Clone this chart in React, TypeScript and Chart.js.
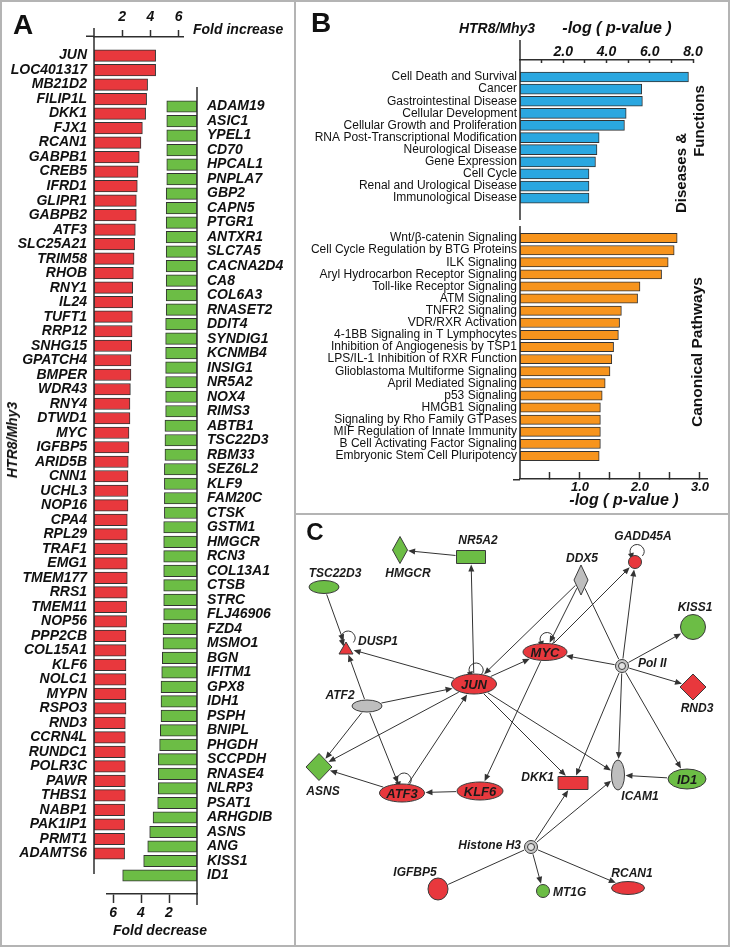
import React, { useEffect, useRef } from "react";
import { Chart, registerables } from "chart.js";

Chart.register(...registerables);

const SANS = '"Liberation Sans", Arial, Helvetica, sans-serif';

// ---------------- Panel A data ----------------
const upGenes = [
  "JUN", "LOC401317", "MB21D2", "FILIP1L", "DKK1", "FJX1", "RCAN1", "GABPB1", "CREB5", "IFRD1",
  "GLIPR1", "GABPB2", "ATF3", "SLC25A21", "TRIM58", "RHOB", "RNY1", "IL24", "TUFT1", "RRP12",
  "SNHG15", "GPATCH4", "BMPER", "WDR43", "RNY4", "DTWD1", "MYC", "IGFBP5", "ARID5B", "CNN1",
  "UCHL3", "NOP16", "CPA4", "RPL29", "TRAF1", "EMG1", "TMEM177", "RRS1", "TMEM11", "NOP56",
  "PPP2CB", "COL15A1", "KLF6", "NOLC1", "MYPN", "RSPO3", "RND3", "CCRN4L", "RUNDC1", "POLR3C",
  "PAWR", "THBS1", "NABP1", "PAK1IP1", "PRMT1", "ADAMTS6",
];
const upFold = [
  4.37, 4.37, 3.8, 3.73, 3.66, 3.43, 3.33, 3.21, 3.12, 3.07,
  3.0, 3.0, 2.93, 2.88, 2.84, 2.79, 2.74, 2.74, 2.72, 2.7,
  2.67, 2.62, 2.62, 2.58, 2.55, 2.55, 2.48, 2.48, 2.43, 2.41,
  2.41, 2.41, 2.36, 2.36, 2.36, 2.36, 2.36, 2.36, 2.31, 2.31,
  2.27, 2.27, 2.27, 2.27, 2.27, 2.27, 2.22, 2.22, 2.22, 2.22,
  2.22, 2.22, 2.17, 2.17, 2.17, 2.17,
];
const downGenes = [
  "ADAM19", "ASIC1", "YPEL1", "CD70", "HPCAL1", "PNPLA7", "GBP2", "CAPN5", "PTGR1", "ANTXR1",
  "SLC7A5", "CACNA2D4", "CA8", "COL6A3", "RNASET2", "DDIT4", "SYNDIG1", "KCNMB4", "INSIG1", "NR5A2",
  "NOX4", "RIMS3", "ABTB1", "TSC22D3", "RBM33", "SEZ6L2", "KLF9", "FAM20C", "CTSK", "GSTM1",
  "HMGCR", "RCN3", "COL13A1", "CTSB", "STRC", "FLJ46906", "FZD4", "MSMO1", "BGN", "IFITM1",
  "GPX8", "IDH1", "PSPH", "BNIPL", "PHGDH", "SCCPDH", "RNASE4", "NLRP3", "PSAT1", "ARHGDIB",
  "ASNS", "ANG", "KISS1", "ID1",
];
const downFold = [
  2.16, 2.16, 2.16, 2.16, 2.16, 2.16, 2.2, 2.2, 2.2, 2.2,
  2.2, 2.2, 2.2, 2.2, 2.2, 2.24, 2.24, 2.24, 2.24, 2.24,
  2.24, 2.24, 2.29, 2.29, 2.29, 2.33, 2.33, 2.33, 2.33, 2.38,
  2.38, 2.38, 2.38, 2.38, 2.38, 2.38, 2.43, 2.43, 2.48, 2.52,
  2.57, 2.57, 2.57, 2.62, 2.67, 2.76, 2.76, 2.76, 2.81, 3.14,
  3.38, 3.52, 3.81, 5.31,
];
const foldUpTicks = [2, 4, 6];
const foldDownTicks = [2, 4, 6];

// ---------------- Panel B data ----------------
const diseaseTerms = [
  "Cell Death and Survival", "Cancer", "Gastrointestinal Disease", "Cellular Development",
  "Cellular Growth and Proliferation", "RNA Post-Transcriptional Modification", "Neurological Disease",
  "Gene Expression", "Cell Cycle", "Renal and Urological Disease", "Immunological Disease",
];
const diseaseLogP = [7.79, 5.63, 5.66, 4.91, 4.83, 3.66, 3.56, 3.49, 3.19, 3.19, 3.19];
const diseaseTicks = [1, 2, 3, 4, 5, 6, 7, 8];

const pathwayTerms = [
  "Wnt/β-catenin Signaling", "Cell Cycle Regulation by BTG Proteins", "ILK Signaling",
  "Aryl Hydrocarbon Receptor Signaling", "Toll-like Receptor Signaling", "ATM Signaling",
  "TNFR2 Signaling", "VDR/RXR Activation", "4-1BB Signaling in T Lymphocytes",
  "Inhibition of Angiogenesis by TSP1", "LPS/IL-1 Inhibition of RXR Function",
  "Glioblastoma Multiforme Signaling", "April Mediated Signaling", "p53 Signaling", "HMGB1 Signaling",
  "Signaling by Rho Family GTPases", "MIF Regulation of Innate Immunity",
  "B Cell Activating Factor Signaling", "Embryonic Stem Cell Pluripotency",
];
const pathwayLogP = [2.62, 2.57, 2.47, 2.36, 2.0, 1.96, 1.69, 1.66, 1.64, 1.56, 1.53, 1.5, 1.42, 1.37, 1.34, 1.34, 1.34, 1.34, 1.32];
const pathwayTicks = [0.5, 1, 1.5, 2, 2.5, 3];

// ---------------- Panel C data (network layout units) ----------------
const nodeNames = [
  "HMGCR", "NR5A2", "TSC22D3", "DUSP1", "DDX5", "GADD45A", "KISS1", "MYC", "Pol II", "JUN", "ATF2",
  "RND3", "ASNS", "ATF3", "KLF6", "DKK1", "ICAM1", "ID1", "Histone H3", "IGFBP5", "MT1G", "RCAN1",
];
const nodeX = [102, 173, 26, 48, 283, 337, 395, 247, 324, 176, 69, 395, 21, 104, 182, 275, 320, 389, 233, 140, 245, 330];
const nodeY = [34, 41, 71, 132, 64, 46, 111, 136, 150, 168, 190, 171, 251, 277, 275, 267, 259, 263, 331, 373, 375, 372];
const nodeRegulation = [
  "down", "down", "down", "up", "none", "up", "down", "up", "none", "up", "none",
  "up", "down", "up", "up", "up", "none", "down", "none", "up", "down", "up",
];
const edgeFrom = [
  "NR5A2", "JUN", "TSC22D3", "JUN", "ATF2", "ATF2", "ATF2", "ATF2", "JUN", "ATF3", "MYC", "KLF6",
  "ATF3", "JUN", "JUN", "JUN", "DDX5", "DDX5", "MYC", "DDX5", "Pol II", "Pol II", "Pol II", "Pol II",
  "Pol II", "Pol II", "Pol II", "ID1", "Histone H3", "Histone H3", "Histone H3", "Histone H3", "IGFBP5",
];
const edgeTo = [
  "HMGCR", "NR5A2", "DUSP1", "DUSP1", "DUSP1", "JUN", "ASNS", "ATF3", "ASNS", "JUN", "KLF6", "ATF3",
  "ASNS", "MYC", "DKK1", "ICAM1", "JUN", "MYC", "GADD45A", "Pol II", "MYC", "GADD45A", "KISS1", "RND3",
  "ICAM1", "DKK1", "ID1", "ICAM1", "DKK1", "ICAM1", "MT1G", "RCAN1", "Histone H3",
];
const edgeDirected = [
  true, true, true, true, true, true, true, true, true, true, true, true,
  true, true, true, true, true, true, true, false, true, true, true, true,
  true, true, true, true, true, true, true, true, false,
];
const selfLoopNodes = ["GADD45A", "DUSP1", "MYC", "JUN", "ATF3"];

// ---------------- styles ----------------
const AXIS = "#2e2e2e";
const RED = "#E8383D";
const GREEN = "#6CBD45";
const BLUE = "#2AA7E0";
const ORANGE = "#F7941D";
const GRAY = "#BEBEBE";
const REG_COLOR: Record<string, string> = { up: RED, down: GREEN, none: GRAY };

type NodeStyle = { shape: string; w: number; h: number; inside?: boolean; lx?: number; ly?: number; la?: CanvasTextAlign };
const NODE_STYLE: Record<string, NodeStyle> = {
  HMGCR: { shape: "diamond", w: 15, h: 27, lx: 8, ly: 24, la: "center" },
  NR5A2: { shape: "rect", w: 29, h: 13, lx: 7, ly: -16, la: "center" },
  TSC22D3: { shape: "ellipse", w: 30, h: 13, lx: 11, ly: -13, la: "center" },
  DUSP1: { shape: "triangle", w: 14, h: 12, lx: 12, ly: -6, la: "left" },
  DDX5: { shape: "diamond", w: 14, h: 30, lx: 1, ly: -21, la: "center" },
  GADD45A: { shape: "ellipse", w: 13, h: 13, lx: 8, ly: -25, la: "center" },
  KISS1: { shape: "ellipse", w: 25, h: 25, lx: 2, ly: -19, la: "center" },
  MYC: { shape: "ellipse", w: 44, h: 17, inside: true },
  "Pol II": { shape: "double", w: 13, h: 13, lx: 16, ly: -2, la: "left" },
  JUN: { shape: "ellipse", w: 45, h: 20, inside: true },
  ATF2: { shape: "ellipse", w: 30, h: 12, lx: -27, ly: -10, la: "center" },
  RND3: { shape: "diamond", w: 26, h: 26, lx: 4, ly: 22, la: "center" },
  ASNS: { shape: "diamond", w: 26, h: 27, lx: 4, ly: 25, la: "center" },
  ATF3: { shape: "ellipse", w: 45, h: 18, inside: true },
  KLF6: { shape: "ellipse", w: 46, h: 18, inside: true },
  DKK1: { shape: "rect", w: 30, h: 13, lx: -19, ly: -5, la: "right" },
  ICAM1: { shape: "ellipse", w: 13, h: 30, lx: 22, ly: 22, la: "center" },
  ID1: { shape: "ellipse", w: 38, h: 20, inside: true },
  "Histone H3": { shape: "double", w: 13, h: 13, lx: -10, ly: -1, la: "right" },
  IGFBP5: { shape: "ellipse", w: 20, h: 22, lx: -23, ly: -16, la: "center" },
  MT1G: { shape: "ellipse", w: 13, h: 13, lx: 10, ly: 2, la: "left" },
  RCAN1: { shape: "ellipse", w: 33, h: 13, lx: 4, ly: -14, la: "center" },
};

// ---------------- plugins ----------------
const zeroLinePlugin = {
  id: "zeroLine",
  afterDatasetsDraw(chart: any, _args: any, o: any) {
    if (!o || !o.show) return;
    const ctx = chart.ctx;
    const x = chart.scales.x.getPixelForValue(0);
    const { top, bottom, left } = chart.chartArea;
    ctx.save();
    ctx.strokeStyle = AXIS;
    ctx.lineWidth = 1.5;
    ctx.beginPath();
    ctx.moveTo(x, top - (o.above || 0));
    ctx.lineTo(x, bottom + (o.below || 0));
    if (o.extLeft) {
      const y = o.extSide === "top" ? top - 0.75 : bottom + 0.75;
      ctx.moveTo(left - o.extLeft, y);
      ctx.lineTo(left, y);
    }
    ctx.stroke();
    ctx.restore();
  },
};

function shapePath(ctx: CanvasRenderingContext2D, shape: string, x: number, y: number, w: number, h: number) {
  ctx.beginPath();
  if (shape === "rect") ctx.rect(x - w / 2, y - h / 2, w, h);
  else if (shape === "diamond") {
    ctx.moveTo(x, y - h / 2);
    ctx.lineTo(x + w / 2, y);
    ctx.lineTo(x, y + h / 2);
    ctx.lineTo(x - w / 2, y);
    ctx.closePath();
  } else if (shape === "triangle") {
    ctx.moveTo(x, y - h / 2);
    ctx.lineTo(x + w / 2, y + h / 2);
    ctx.lineTo(x - w / 2, y + h / 2);
    ctx.closePath();
  } else ctx.ellipse(x, y, w / 2, h / 2, 0, 0, Math.PI * 2);
}

function boundary(shape: string, w: number, h: number, ux: number, uy: number) {
  const a = w / 2, b = h / 2;
  const ax = Math.abs(ux), ay = Math.abs(uy);
  if (shape === "rect") return Math.min(ax > 1e-6 ? a / ax : 1e9, ay > 1e-6 ? b / ay : 1e9);
  if (shape === "diamond") return 1 / (ax / a + ay / b);
  return 1 / Math.sqrt((ux / a) ** 2 + (uy / b) ** 2);
}

function arrowHead(ctx: CanvasRenderingContext2D, x: number, y: number, ux: number, uy: number) {
  const len = 7, hw = 3;
  const bx = x - ux * len, by = y - uy * len;
  ctx.beginPath();
  ctx.moveTo(x, y);
  ctx.lineTo(bx - uy * hw, by + ux * hw);
  ctx.lineTo(bx + uy * hw, by - ux * hw);
  ctx.closePath();
  ctx.fill();
}

const networkPlugin = {
  id: "network",
  afterDatasetsDraw(chart: any) {
    const ctx: CanvasRenderingContext2D = chart.ctx;
    const meta = chart.getDatasetMeta(0);
    const pos = (name: string) => {
      const el = meta.data[nodeNames.indexOf(name)];
      return { x: el.x, y: el.y };
    };
    ctx.save();
    ctx.strokeStyle = "#333";
    ctx.fillStyle = "#333";
    ctx.lineWidth = 1;
    edgeFrom.forEach((f, k) => {
      const t = edgeTo[k];
      const a = pos(f), b = pos(t);
      const sa = NODE_STYLE[f], sb = NODE_STYLE[t];
      const dx = b.x - a.x, dy = b.y - a.y;
      const L = Math.hypot(dx, dy);
      const ux = dx / L, uy = dy / L;
      const da = boundary(sa.shape, sa.w, sa.h, ux, uy) + 1;
      const db = boundary(sb.shape, sb.w, sb.h, ux, uy) + 1;
      const x1 = a.x + ux * da, y1 = a.y + uy * da;
      const x2 = b.x - ux * db, y2 = b.y - uy * db;
      ctx.beginPath();
      ctx.moveTo(x1, y1);
      ctx.lineTo(edgeDirected[k] ? x2 - ux * 5 : x2, edgeDirected[k] ? y2 - uy * 5 : y2);
      ctx.stroke();
      if (edgeDirected[k]) arrowHead(ctx, x2, y2, ux, uy);
    });
    selfLoopNodes.forEach((n) => {
      const p = pos(n);
      const s = NODE_STYLE[n];
      const r = 7;
      const cx = p.x + 2, cy = p.y - s.h / 2 - r + 3;
      ctx.beginPath();
      ctx.arc(cx, cy, r, Math.PI * 0.78, Math.PI * 2.22);
      ctx.stroke();
      const sx = cx + r * Math.cos(Math.PI * 0.78), sy = cy + r * Math.sin(Math.PI * 0.78);
      arrowHead(ctx, sx + 1, sy + 4, 0.25, 0.97);
    });
    nodeNames.forEach((n, i) => {
      const p = pos(n);
      const s = NODE_STYLE[n];
      ctx.lineWidth = 1;
      ctx.strokeStyle = "#3a3a3a";
      if (s.shape === "double") {
        shapePath(ctx, "ellipse", p.x, p.y, s.w, s.h);
        ctx.fillStyle = "#C8C8C8";
        ctx.fill();
        ctx.stroke();
        shapePath(ctx, "ellipse", p.x, p.y, s.w - 6, s.h - 6);
        ctx.fillStyle = "#E2E2E2";
        ctx.fill();
        ctx.stroke();
      } else {
        shapePath(ctx, s.shape, p.x, p.y, s.w, s.h);
        ctx.fillStyle = REG_COLOR[nodeRegulation[i]];
        ctx.fill();
        ctx.stroke();
      }
      ctx.fillStyle = "#1a1a1a";
      ctx.textBaseline = "middle";
      if (s.inside) {
        ctx.font = "italic bold 13px " + SANS;
        ctx.textAlign = "center";
        ctx.fillText(n, p.x, p.y + 1);
      } else {
        ctx.font = "italic bold 12px " + SANS;
        ctx.textAlign = s.la || "center";
        ctx.fillText(n, p.x + (s.lx || 0), p.y + (s.ly || 0));
      }
    });
    ctx.restore();
  },
};

// ---------------- chart builders ----------------
type BarSpec = {
  labels: string[];
  values: number[];
  color: string;
  barThickness: number;
  xMin: number;
  xMax: number;
  xReverse?: boolean;
  xPos: "top" | "bottom";
  xTicks: number[];
  xLabel: (v: number) => string;
  xFont: any;
  tickLength: number;
  tickPadding: number;
  axisHeight: number;
  yMin: number;
  yMax: number;
  yPos: "left" | "right";
  yWidth: number;
  yPadding: number;
  yFont: any;
  padding: { left: number; right: number; top: number; bottom: number };
  zero: { above: number; below: number; extLeft?: number; extSide?: string };
};

function barConfig(s: BarSpec): any {
  return {
    type: "bar",
    data: {
      datasets: [
        {
          data: s.values.map((v, i) => ({ x: v, y: i })),
          backgroundColor: s.color,
          borderColor: "#333",
          borderWidth: 1,
          borderSkipped: false,
          barThickness: s.barThickness,
        },
      ],
    },
    options: {
      indexAxis: "y",
      animation: false,
      responsive: true,
      maintainAspectRatio: false,
      events: [],
      layout: { padding: s.padding },
      plugins: {
        legend: { display: false },
        tooltip: { enabled: false },
        zeroLine: { show: true, ...s.zero },
      },
      scales: {
        x: {
          type: "linear",
          position: s.xPos,
          min: s.xMin,
          max: s.xMax,
          reverse: !!s.xReverse,
          afterBuildTicks: (sc: any) => {
            sc.ticks = s.xTicks.map((value) => ({ value }));
          },
          afterFit: (sc: any) => {
            sc.height = s.axisHeight;
          },
          grid: { drawOnChartArea: false, drawTicks: true, tickLength: s.tickLength, tickColor: AXIS, tickWidth: 1.5 },
          border: { display: true, color: AXIS, width: 1.5 },
          ticks: {
            callback: (v: any) => s.xLabel(Number(v)),
            font: s.xFont,
            color: "#111",
            padding: s.tickPadding,
            maxRotation: 0,
            autoSkip: false,
          },
        },
        y: {
          type: "linear",
          position: s.yPos,
          min: s.yMin,
          max: s.yMax,
          reverse: true,
          afterBuildTicks: (sc: any) => {
            sc.ticks = s.labels.map((_, i) => ({ value: i }));
          },
          afterFit: (sc: any) => {
            sc.width = s.yWidth;
          },
          grid: { display: false, drawTicks: false },
          border: { display: false },
          ticks: {
            callback: (v: any) => s.labels[Number(v)] ?? "",
            font: s.yFont,
            color: "#111",
            padding: s.yPadding,
            autoSkip: false,
          },
        },
      },
    },
    plugins: [zeroLinePlugin],
  };
}

function narrowFont(): boolean {
  const ctx = document.createElement("canvas").getContext("2d");
  if (!ctx) return false;
  const s = "Cell Death and Survival RNA Post-Transcriptional";
  ctx.font = "20px monospace";
  const a = ctx.measureText(s).width;
  ctx.font = '20px "Liberation Sans Narrow", monospace';
  const b = ctx.measureText(s).width;
  return Math.abs(a - b) > 1;
}
function termFont() {
  return narrowFont()
    ? { family: '"Liberation Sans Narrow", ' + SANS, size: 14 }
    : { family: SANS, size: 12 };
}

const geneFont = { family: SANS, size: 14, style: "italic", weight: "bold" };

const makeUp = () =>
  barConfig({
    labels: upGenes,
    values: upFold,
    color: RED,
    barThickness: 11.5,
    xMin: 0,
    xMax: 6.31,
    xPos: "top",
    xTicks: foldUpTicks,
    xLabel: (v) => String(v),
    xFont: geneFont,
    tickLength: 7,
    tickPadding: 4.6,
    axisHeight: 37,
    yMin: -0.765,
    yMax: 55.9,
    yPos: "left",
    yWidth: 94,
    yPadding: 7,
    yFont: geneFont,
    padding: { left: 0, right: 17, top: 0, bottom: 16 },
    zero: { above: 9, below: 0, extLeft: 8, extSide: "top" },
  });

const makeDown = () =>
  barConfig({
    labels: downGenes,
    values: downFold,
    color: GREEN,
    barThickness: 11.5,
    xMin: 0,
    xMax: 6.43,
    xReverse: true,
    xPos: "bottom",
    xTicks: foldDownTicks,
    xLabel: (v) => String(v),
    xFont: geneFont,
    tickLength: 9,
    tickPadding: 1.6,
    axisHeight: 30,
    yMin: -0.832,
    yMax: 53.76,
    yPos: "right",
    yWidth: 95,
    yPadding: 10,
    yFont: geneFont,
    padding: { left: 107, right: 8, top: 87, bottom: 23 },
    zero: { above: 0, below: 11 },
  });

const makeDisease = () =>
  barConfig({
    labels: diseaseTerms,
    values: diseaseLogP,
    color: BLUE,
    barThickness: 10,
    xMin: 0,
    xMax: 8,
    xPos: "top",
    xTicks: diseaseTicks,
    xLabel: (v) => (v % 2 === 0 ? v.toFixed(1) : ""),
    xFont: { family: SANS, size: 14, style: "italic", weight: "bold" },
    tickLength: -3,
    tickPadding: 2.6,
    axisHeight: 60,
    yMin: -0.8,
    yMax: 11.2,
    yPos: "left",
    yWidth: 220,
    yPadding: 3,
    yFont: termFont(),
    padding: { left: 0, right: 27, top: 0, bottom: 20 },
    zero: { above: 20, below: 0 },
  });

const makePathway = () =>
  barConfig({
    labels: pathwayTerms,
    values: pathwayLogP,
    color: ORANGE,
    barThickness: 9.3,
    xMin: 0,
    xMax: 3.117,
    xPos: "bottom",
    xTicks: pathwayTicks,
    xLabel: (v) => (Number.isInteger(v) ? v.toFixed(1) : ""),
    xFont: { family: SANS, size: 13, style: "italic", weight: "bold" },
    tickLength: -7,
    tickPadding: 7.2,
    axisHeight: 21,
    yMin: -0.446,
    yMax: 19.35,
    yPos: "left",
    yWidth: 220,
    yPadding: 3,
    yFont: termFont(),
    padding: { left: 0, right: 23, top: 26, bottom: 0 },
    zero: { above: 0, below: 0, extLeft: 7, extSide: "bottom" },
  });

const makeNetwork = (): any => ({
  type: "scatter",
  data: {
    datasets: [
      {
        data: nodeNames.map((_, i) => ({ x: nodeX[i], y: nodeY[i] })),
        pointRadius: 0,
        pointHoverRadius: 0,
      },
    ],
  },
  options: {
    animation: false,
    responsive: true,
    maintainAspectRatio: false,
    events: [],
    layout: { padding: 0 },
    plugins: { legend: { display: false }, tooltip: { enabled: false } },
    scales: {
      x: { type: "linear", display: false, min: 0, max: 430 },
      y: { type: "linear", display: false, min: 0, max: 429, reverse: true },
    },
  },
  plugins: [networkPlugin],
});

// ---------------- components ----------------
function ChartBox({ left, top, width, height, make }: { left: number; top: number; width: number; height: number; make: () => any }) {
  const ref = useRef<HTMLCanvasElement>(null);
  useEffect(() => {
    const chart = new Chart(ref.current as HTMLCanvasElement, make());
    return () => chart.destroy();
  }, []);
  return (
    <div style={{ position: "absolute", left, top, width, height }}>
      <canvas ref={ref} />
    </div>
  );
}

type TxtProps = {
  x: number;
  y: number;
  text: string;
  size: number;
  italic?: boolean;
  bold?: boolean;
  anchor?: "center" | "left" | "right";
  rotate?: boolean;
};
function Txt({ x, y, text, size, italic = true, bold = true, anchor = "center", rotate = false }: TxtProps) {
  const tx = anchor === "left" ? "0" : anchor === "right" ? "-100%" : "-50%";
  return (
    <div
      style={{
        position: "absolute",
        left: x,
        top: y,
        transform: `translate(${tx},-50%)${rotate ? " rotate(-90deg)" : ""}`,
        font: `${italic ? "italic " : ""}${bold ? "bold " : ""}${size}px ${SANS}`,
        lineHeight: 1,
        whiteSpace: "nowrap",
        color: "#111",
      }}
    >
      {text}
    </div>
  );
}

export default function App() {
  const frame = "#b4b4b4";
  return (
    <div style={{ position: "absolute", left: 0, top: 0, width: 730, height: 947, background: "#fff", overflow: "hidden" }}>
      <ChartBox left={0} top={0} width={200} height={890} make={makeUp} />
      <ChartBox left={0} top={0} width={300} height={947} make={makeDown} />
      <ChartBox left={300} top={0} width={420} height={240} make={makeDisease} />
      <ChartBox left={300} top={200} width={430} height={300} make={makePathway} />
      <ChartBox left={298} top={516} width={430} height={429} make={makeNetwork} />

      <Txt x={23} y={25} text="A" size={28} italic={false} />
      <Txt x={193} y={29} text="Fold increase" size={14} anchor="left" />
      <Txt x={12} y={440} text="HTR8/Mhy3" size={14} rotate />
      <Txt x={160} y={930} text="Fold decrease" size={14} />

      <Txt x={321} y={23} text="B" size={28} italic={false} />
      <Txt x={497} y={28} text="HTR8/Mhy3" size={14} />
      <Txt x={617} y={28} text="-log ( p-value )" size={16} />
      <Txt x={680} y={173} text="Diseases &" size={15} italic={false} rotate />
      <Txt x={698} y={121} text="Functions" size={15} italic={false} rotate />
      <Txt x={697} y={352} text="Canonical Pathways" size={15.5} italic={false} rotate />
      <Txt x={624} y={500} text="-log ( p-value )" size={16} />

      <Txt x={315} y={532} text="C" size={24} italic={false} />

      <div style={{ position: "absolute", left: 0, top: 0, width: 730, height: 947, boxSizing: "border-box", border: `2px solid ${frame}` }} />
      <div style={{ position: "absolute", left: 294, top: 0, width: 2, height: 947, background: frame }} />
      <div style={{ position: "absolute", left: 294, top: 513, width: 436, height: 2, background: frame }} />
    </div>
  );
}
